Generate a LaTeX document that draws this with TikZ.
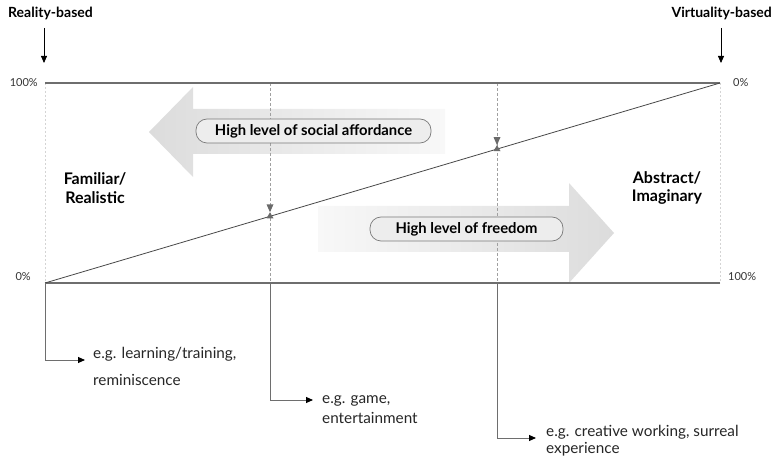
\documentclass[tikz,border=0pt]{standalone}
\usepackage{fontspec}
\setmainfont{Lato}
\usetikzlibrary{arrows.meta}
\definecolor{axisgray}{HTML}{6E6E6E}
\definecolor{diaggray}{HTML}{4A4A4A}
\definecolor{dashgray}{HTML}{A0A0A0}
\definecolor{boundgray}{HTML}{D4D4D4}
\definecolor{boxfill}{HTML}{EDEDED}
\definecolor{boxline}{HTML}{7A7A7A}
\definecolor{arrowdark}{HTML}{DCDCDC}
\definecolor{arrowlight}{HTML}{F8F8F8}
\definecolor{markgray}{HTML}{6A6A6A}
\tikzset{
  axisline/.style={draw=axisgray, line width=1.1pt},
  diagline/.style={draw=diaggray, line width=0.8pt},
  guide/.style={draw=dashgray, line width=0.6pt, dash pattern=on 3pt off 2pt},
  bound/.style={draw=boundgray, line width=0.6pt, dash pattern=on 2pt off 2pt},
  conn/.style={draw=axisgray, line width=0.9pt, -{Triangle[length=7pt,width=6pt,color=black]}},
  topconn/.style={draw=black, line width=0.8pt, -{Triangle[length=7pt,width=6pt]}},
  pill/.style={draw=boxline, fill=boxfill, line width=0.7pt, rounded corners=11pt,
    minimum height=24pt, inner sep=0pt, font=\fontsize{14.8}{17}\selectfont\bfseries},
  example/.style={anchor=west, inner sep=0pt, font=\fontsize{15.3}{17}\selectfont, text=black!85},
  pct/.style={inner sep=0pt, font=\fontsize{11}{13}\selectfont, text=black!80},
  head/.style={inner sep=0pt, font=\fontsize{14}{16}\selectfont\bfseries},
  side/.style={inner sep=0pt, align=center, font=\fontsize{16}{18.5}\selectfont\bfseries},
  marker/.style={fill=markgray, draw=none}
}
\begin{document}
\begin{tikzpicture}[x=1pt, y=-1pt]
\useasboundingbox (0,0) rectangle (776,462);

% key points
\coordinate (TL) at (45,83);
\coordinate (TR) at (720,83);
\coordinate (BL) at (45,283);
\coordinate (BR) at (720,283);
\coordinate (G1t) at (270,83);
\coordinate (G1b) at (270,283);
\coordinate (G2t) at (497,83);
\coordinate (G2b) at (497,283);

% big shaded arrows
\path[shading=axis, left color=arrowdark, right color=arrowlight]
  (149,132) -- (193,87) -- (193,109) -- (445,109) -- (445,154) -- (193,154) -- (193,177) -- cycle;
\path[shading=axis, left color=arrowlight, right color=arrowdark]
  (318,206) -- (569,206) -- (569,183) -- (614,233) -- (569,283) -- (569,252) -- (318,252) -- cycle;

% boundaries and guides
\draw[bound] (TL) -- (BL);
\draw[bound] (TR) -- (BR);
\draw[guide] (G1t) -- (G1b);
\draw[guide] (G2t) -- (G2b);

% axes
\draw[axisline] (TL) -- (TR);
\draw[axisline] (BL) -- (BR);
\draw[diagline] (BL) -- (TR);

% markers on the diagonal
\foreach \mx/\my in {270/216.3, 497/149.1}{
  \path[marker] (\mx-3.5,\my-12) -- (\mx+3.5,\my-12) -- (\mx,\my-4) -- cycle;
  \path[marker] (\mx,\my-4) -- (\mx+3.5,\my+2) -- (\mx-3.5,\my+2) -- cycle;
}

% pills
\node[pill, minimum width=235pt] (soc) at (313.5,131) {High level of social affordance};
\node[pill, minimum width=193pt] (free) at (466.5,229) {High level of freedom};

% headings
\node[head, anchor=west] (real) at (8,13) {Reality-based};
\node[head, anchor=east] (virt) at (772,13) {Virtuality-based};
\coordinate (ra) at (44,28);
\coordinate (rb) at (44,63);
\coordinate (va) at (721,28);
\coordinate (vb) at (721,63);
\draw[topconn] (ra) -- (rb);
\draw[topconn] (va) -- (vb);

% percentages
\node[pct, anchor=east] (p1) at (38,83) {100\%};
\node[pct, anchor=west] (p2) at (733,83) {0\%};
\node[pct, anchor=east] (p3) at (31,277) {0\%};
\node[pct, anchor=west] (p4) at (728,277) {100\%};

% side labels
\node[side] (fam) at (95,188) {Familiar/\\Realistic};
\node[side] (abs) at (667,188) {Abstract/\\Imaginary};

% examples
\coordinate (e1) at (85,360);
\coordinate (e2) at (313,400);
\coordinate (e3) at (536,438);
\draw[conn] (BL) |- (e1);
\draw[conn] (G1b) |- (e2);
\draw[conn] (G2b) |- (e3);
\node[example] (x1a) at (93,354) {e.g. learning/training,};
\node[example] (x1b) at (93,380) {reminiscence};
\node[example] (x2a) at (322,401) {e.g. game,};
\node[example] (x2b) at (322,418) {entertainment};
\node[example] (x3a) at (546,432) {e.g. creative working, surreal};
\node[example] (x3b) at (546,449) {experience};
\end{tikzpicture}
\end{document}
